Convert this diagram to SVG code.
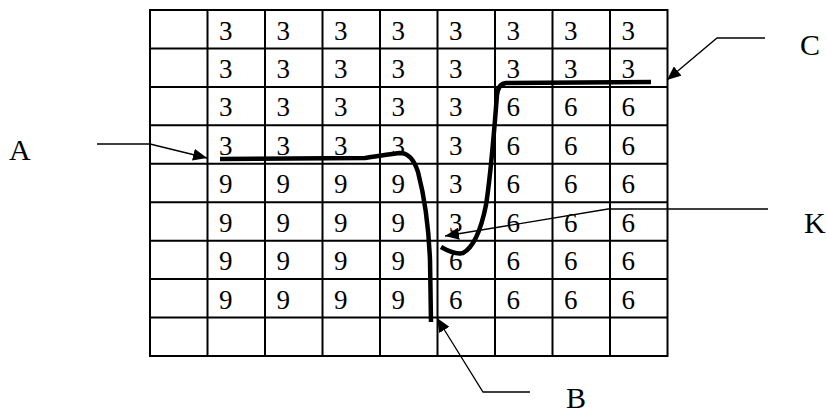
<svg xmlns="http://www.w3.org/2000/svg" width="827" height="415" viewBox="0 0 827 415">
<style>
.g{stroke:#000;stroke-width:2;fill:none}
.d{font-family:"Liberation Serif",serif;font-size:27px;fill:#000}
.l{font-family:"Liberation Serif",serif;font-size:30px;fill:#000}
.t{stroke:#000;stroke-width:4.5;fill:none;stroke-linecap:butt;stroke-linejoin:round}
.a{stroke:#000;stroke-width:1.3;fill:none;marker-end:url(#ah)}
</style>
<defs>
<marker id="ah" markerUnits="userSpaceOnUse" markerWidth="16" markerHeight="12" refX="14" refY="6" orient="auto">
<path d="M0,0 L14,6 L0,12 Z" fill="#000"/>
</marker>
</defs>
<g id="grid">
<rect class="g" x="150" y="10" width="517.5" height="346"/>
<path class="g" d="M207.5,10V356M265,10V356M322.5,10V356M380,10V356M437.5,10V356M495,10V356M552.5,10V356M610,10V356M150,48.4H667.5M150,86.9H667.5M150,125.3H667.5M150,163.8H667.5M150,202.2H667.5M150,240.7H667.5M150,279.1H667.5M150,317.6H667.5"/>
</g>
<g id="numbers" class="d">
<text x="219" y="39.5">3</text><text x="276.5" y="39.5">3</text><text x="334" y="39.5">3</text><text x="391.5" y="39.5">3</text><text x="449" y="39.5">3</text><text x="506.5" y="39.5">3</text><text x="564" y="39.5">3</text><text x="621.5" y="39.5">3</text>
<text x="219" y="77.9">3</text><text x="276.5" y="77.9">3</text><text x="334" y="77.9">3</text><text x="391.5" y="77.9">3</text><text x="449" y="77.9">3</text><text x="506.5" y="77.9">3</text><text x="564" y="77.9">3</text><text x="621.5" y="77.9">3</text>
<text x="219" y="116.4">3</text><text x="276.5" y="116.4">3</text><text x="334" y="116.4">3</text><text x="391.5" y="116.4">3</text><text x="449" y="116.4">3</text><text x="506.5" y="116.4">6</text><text x="564" y="116.4">6</text><text x="621.5" y="116.4">6</text>
<text x="219" y="154.8">3</text><text x="276.5" y="154.8">3</text><text x="334" y="154.8">3</text><text x="391.5" y="154.8">3</text><text x="449" y="154.8">3</text><text x="506.5" y="154.8">6</text><text x="564" y="154.8">6</text><text x="621.5" y="154.8">6</text>
<text x="219" y="193.3">9</text><text x="276.5" y="193.3">9</text><text x="334" y="193.3">9</text><text x="391.5" y="193.3">9</text><text x="449" y="193.3">3</text><text x="506.5" y="193.3">6</text><text x="564" y="193.3">6</text><text x="621.5" y="193.3">6</text>
<text x="219" y="231.7">9</text><text x="276.5" y="231.7">9</text><text x="334" y="231.7">9</text><text x="391.5" y="231.7">9</text><text x="449" y="231.7">3</text><text x="506.5" y="231.7">6</text><text x="564" y="231.7">6</text><text x="621.5" y="231.7">6</text>
<text x="219" y="270.2">9</text><text x="276.5" y="270.2">9</text><text x="334" y="270.2">9</text><text x="391.5" y="270.2">9</text><text x="449" y="270.2">6</text><text x="506.5" y="270.2">6</text><text x="564" y="270.2">6</text><text x="621.5" y="270.2">6</text>
<text x="219" y="308.6">9</text><text x="276.5" y="308.6">9</text><text x="334" y="308.6">9</text><text x="391.5" y="308.6">9</text><text x="449" y="308.6">6</text><text x="506.5" y="308.6">6</text><text x="564" y="308.6">6</text><text x="621.5" y="308.6">6</text>
</g>
<g id="curves">
<path class="t" d="M220,159 L365,158 Q390,154 400,153 Q412,153 418,172 Q428,210 430,260 L431,322"/>
<path class="t" d="M651,82 L506,83 Q498,84 497,95 L495,120 Q490,180 486,205 Q478,245 463,253 Q455,255 441,247"/>
</g>
<g id="connectors">
<polyline class="a" points="97,144 150,144 207,158"/>
<polyline class="a" points="765,38 717,38 667,80"/>
<polyline class="a" points="530,392 483,392 437,318"/>
<polyline class="a" points="768,209 608,209 445,236"/>
</g>
<g id="labels" class="l">
<text id="A" x="9" y="160">A</text>
<text id="C" x="800" y="55">C</text>
<text id="K" x="804" y="233">K</text>
<text id="B" x="566" y="408">B</text>
</g>
</svg>
